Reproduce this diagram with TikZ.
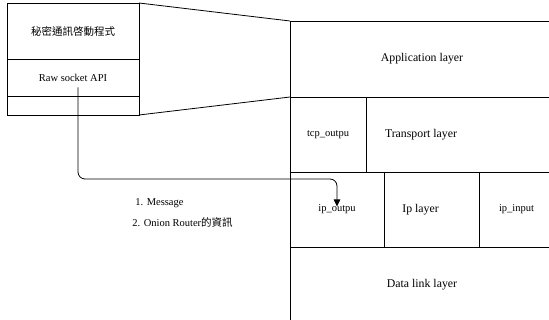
\documentclass[tikz,border=0pt]{standalone}
\usepackage{fontspec}
\setmainfont{Liberation Serif}
\newfontfamily\cjk{Noto Sans CJK TC}
\usetikzlibrary{arrows.meta, positioning}

\begin{document}
\begin{tikzpicture}[
    x=1pt, y=-1pt,
    line width=0.8pt,
    cell/.style={draw, outer sep=0pt, inner sep=0pt, anchor=north west},
    big/.style={font=\rmfamily\fontsize{11.8}{14}\selectfont},
    small/.style={font=\rmfamily\fontsize{10.5}{12}\selectfont},
    arr/.style={-{Triangle[length=7pt, width=6.5pt]}, rounded corners=7pt},
  ]
  \useasboundingbox (0,0) rectangle (549,320);
  \clip (0,0) rectangle (549,320);
  % program on the host
  \node[cell, small, minimum width=132pt, minimum height=56pt] (prog) at (7,3) {\cjk 秘密通訊啓動程式};
  \node[cell, small, minimum width=132pt, minimum height=37pt] (raw) at (prog.south west) {Raw socket API};
  \node[cell, minimum width=132pt, minimum height=19pt] (pad) at (raw.south west) {};
  % protocol stack
  \node[cell, big, minimum width=264pt, minimum height=76pt] (appl) at (290,21) {Application layer};
  \node[cell, small, minimum width=76pt, minimum height=75pt] (tcp) at (appl.south west) {tcp\_outpu};
  \node[cell, minimum width=188pt, minimum height=75pt,
        label={[big, xshift=-39pt]center:Transport layer}] (tpt) at (tcp.north east) {};
  \node[cell, small, minimum width=94pt, minimum height=75pt] (ipout) at (tcp.south west) {ip\_outpu};
  \node[cell, minimum width=95pt, minimum height=75pt,
        label={[big, xshift=-11pt]center:Ip layer}] (ipl) at (ipout.north east) {};
  \node[cell, small, minimum width=75pt, minimum height=75pt] (ipin) at (ipl.north east) {ip\_input};
  \node[cell, big, minimum width=264pt, minimum height=75pt] (link) at (ipout.south west) {Data link layer};
  % zoom lines
  \draw (prog.north east) -- (appl.north west);
  \draw (pad.south east) -- (tcp.north west);
  % message path
  \coordinate (turn) at ([yshift=-7pt]ipout.north);
  \draw[arr] ([xshift=5pt, yshift=-10pt]raw.center) |- (turn) -- ([yshift=3pt]ipout.center);
  \node[small, anchor=west, inner sep=0pt] (msg1) at (135,203) {1. Message};
  \node[small, anchor=west, inner sep=0pt] (msg2) at (132,222) {2. Onion Router{\cjk 的資訊}};
\end{tikzpicture}
\end{document}
